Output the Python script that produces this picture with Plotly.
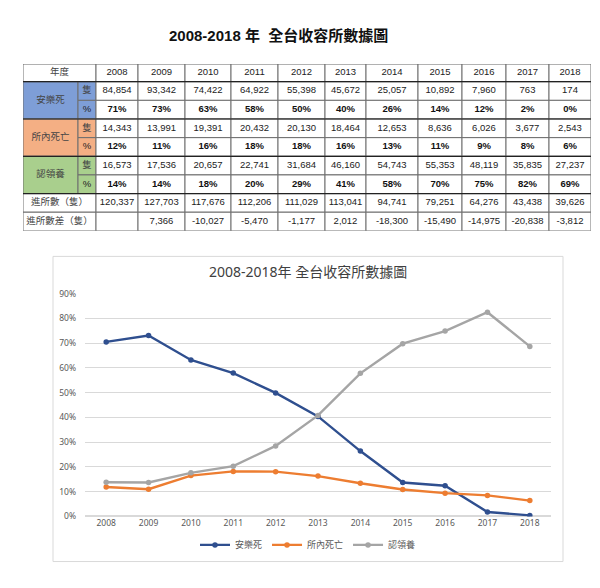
import plotly.graph_objects as go

# ---------------- data ----------------
years = [2008, 2009, 2010, 2011, 2012, 2013, 2014, 2015, 2016, 2017, 2018]
series_names = ["安樂死", "所內死亡", "認領養"]

euth_count = [84854, 93342, 74422, 64922, 55398, 45672, 25057, 10892, 7960, 763, 174]
euth_pct = [71, 73, 63, 58, 50, 40, 26, 14, 12, 2, 0]
death_count = [14343, 13991, 19391, 20432, 20130, 18464, 12653, 8636, 6026, 3677, 2543]
death_pct = [12, 11, 16, 18, 18, 16, 13, 11, 9, 8, 6]
adopt_count = [16573, 17536, 20657, 22741, 31684, 46160, 54743, 55353, 48119, 35835, 27237]
adopt_pct = [14, 14, 18, 20, 29, 41, 58, 70, 75, 82, 69]
intake = [120337, 127703, 117676, 112206, 111029, 113041, 94741, 79251, 64276, 43438, 39626]
intake_diff = [None, 7366, -10027, -5470, -1177, 2012, -18300, -15490, -14975, -20838, -3812]

# values plotted in the line chart (percent)
euth_line = [70.5, 73.1, 63.2, 57.9, 49.9, 40.4, 26.4, 13.7, 12.4, 1.8, 0.4]
death_line = [11.9, 11.0, 16.5, 18.2, 18.1, 16.3, 13.4, 10.9, 9.4, 8.5, 6.4]
adopt_line = [13.8, 13.7, 17.6, 20.3, 28.5, 40.8, 57.8, 69.8, 74.9, 82.5, 68.7]

y_ticks = [0, 10, 20, 30, 40, 50, 60, 70, 80, 90]

# ---------------- styles ----------------
W, H = 600, 588
line_colors = ["#2F4F8F", "#ED7D31", "#A5A5A5"]
group_fills = ["#7E9ED7", "#F4AF84", "#A9CF8D"]
NUM_FONT = "Liberation Sans, Arial, Noto Sans CJK TC"
CJK_FONT = "Noto Sans CJK TC, Noto Sans"
CHART_FONT = "Noto Sans, Noto Sans CJK TC"

col_widths = [55, 18, 42, 47, 46, 47, 47, 41, 52, 44, 44, 43, 42]
row_heights = [18] + [19] * 8
x_edges = [0]
for w in col_widths:
    x_edges.append(x_edges[-1] + w)
y_edges = [0]
for h in row_heights:
    y_edges.append(y_edges[-1] + h)

tbl_left, tbl_top = 15, 51
tbl_w, tbl_h = x_edges[-1], y_edges[-1]

fig = go.Figure()

# ---------------- line chart ----------------
cats = [str(y) for y in years]
for name, vals, col in zip(series_names, [euth_line, death_line, adopt_line], line_colors):
    fig.add_trace(go.Scatter(
        x=cats, y=vals, name=name, mode="lines+markers",
        line=dict(color=col, width=2.4),
        marker=dict(color=col, size=5.5, symbol="circle"),
        xaxis="x", yaxis="y",
    ))

# ---------------- table (drawn on a hidden axis) ----------------
shapes = []
texts = {"num": ([], [], []), "bold": ([], [], []), "cjk": ([], [], [])}


def cell(c0, c1, r0, r1, fill="white", text=None, kind="num"):
    shapes.append(dict(type="rect", xref="x2", yref="y2",
                       x0=x_edges[c0], x1=x_edges[c1], y0=y_edges[r0], y1=y_edges[r1],
                       fillcolor=fill, line=dict(color="#6E6E6E", width=1), layer="below"))
    if text is not None and text != "":
        xs, ys, ts = texts[kind]
        xs.append((x_edges[c0] + x_edges[c1]) / 2)
        ys.append((y_edges[r0] + y_edges[r1]) / 2)
        ts.append(text)


def fmt(v):
    return "" if v is None else f"{v:,}"


# header
cell(0, 2, 0, 1, text="年度", kind="cjk")
for i, y in enumerate(years):
    cell(2 + i, 3 + i, 0, 1, text=str(y))

groups = [(euth_count, euth_pct), (death_count, death_pct), (adopt_count, adopt_pct)]
for g, ((cnt, pct), name, fill) in enumerate(zip(groups, series_names, group_fills)):
    r = 1 + 2 * g
    cell(0, 1, r, r + 2, fill=fill, text=name, kind="cjk")
    cell(1, 2, r, r + 1, fill=fill, text="隻", kind="cjk")
    cell(1, 2, r + 1, r + 2, fill=fill, text="%", kind="num")
    for i in range(len(years)):
        cell(2 + i, 3 + i, r, r + 1, text=fmt(cnt[i]))
        cell(2 + i, 3 + i, r + 1, r + 2, text=f"{pct[i]}%", kind="bold")

cell(0, 2, 7, 8, text="進所數（隻）", kind="cjk")
cell(0, 2, 8, 9, text="進所數差（隻）", kind="cjk")
for i in range(len(years)):
    cell(2 + i, 3 + i, 7, 8, text=fmt(intake[i]))
    cell(2 + i, 3 + i, 8, 9, text=fmt(intake_diff[i]))

# darker group separators
for r in [1, 3, 5, 7]:
    shapes.append(dict(type="line", xref="x2", yref="y2", x0=0, x1=tbl_w,
                       y0=y_edges[r], y1=y_edges[r], line=dict(color="#222222", width=1.2)))

fonts = {
    "num": dict(family=NUM_FONT, size=9.5, color="#222222"),
    "bold": dict(family=NUM_FONT, size=9.5, color="#111111", weight="bold"),
    "cjk": dict(family=CJK_FONT, size=9.5, color="#444444"),
}
for kind, (xs, ys, ts) in texts.items():
    fig.add_trace(go.Scatter(x=xs, y=ys, text=ts, mode="text", textfont=fonts[kind],
                             textposition="middle center", showlegend=False,
                             hoverinfo="skip", xaxis="x2", yaxis="y2", cliponaxis=False))

# chart frame
shapes.append(dict(type="rect", xref="paper", yref="paper",
                   x0=45 / W, x1=555 / W, y0=1 - 558 / H, y1=1 - 247 / H,
                   line=dict(color="#D9D9D9", width=1), fillcolor="rgba(0,0,0,0)", layer="below"))

fig.update_layout(
    width=W, height=H,
    margin=dict(l=0, r=0, t=0, b=0),
    paper_bgcolor="white", plot_bgcolor="white",
    shapes=shapes,
    showlegend=True,
    legend=dict(orientation="h", x=0.5, xanchor="center", y=1 - 541 / H, yanchor="middle",
                font=dict(family=CHART_FONT, size=9, color="#595959"),
                itemwidth=30, bgcolor="rgba(0,0,0,0)"),
    xaxis=dict(domain=[77 / W, 543 / W], type="category", range=[-0.5, 10.5],
               showgrid=False, showline=False, zeroline=False, ticks="",
               tickfont=dict(family=CHART_FONT, size=8.5, color="#595959"),
               anchor="y", fixedrange=True),
    yaxis=dict(domain=[1 - 512 / H, 1 - 285 / H], range=[0, 90], tickvals=y_ticks,
               ticktext=[f"{v}%" for v in y_ticks],
               showgrid=True, gridcolor="#D9D9D9", gridwidth=1, zeroline=True,
               zerolinecolor="#D9D9D9", showline=False, ticks="",
               tickfont=dict(family=CHART_FONT, size=8.5, color="#595959"),
               ticklabelstandoff=8, anchor="x", fixedrange=True),
    xaxis2=dict(domain=[tbl_left / W, (tbl_left + tbl_w) / W], range=[0, tbl_w],
                visible=False, anchor="y2", fixedrange=True),
    yaxis2=dict(domain=[1 - (tbl_top + tbl_h) / H, 1 - tbl_top / H], range=[tbl_h, 0],
                visible=False, anchor="x2", fixedrange=True),
    annotations=[
        dict(text="<b>2008-2018 年\u00a0\u00a0全台收容所數據圖</b>", xref="paper", yref="paper",
             x=159 / W, y=1 - 22 / H, xanchor="left", yanchor="middle", showarrow=False,
             font=dict(family=NUM_FONT, size=15, color="#111111")),
        dict(text="2008-2018年 全台收容所數據圖", xref="paper", yref="paper",
             x=300 / W, y=1 - 262 / H, xanchor="center", yanchor="middle", showarrow=False,
             font=dict(family=CHART_FONT, size=14, color="#404040")),
    ],
)

fig.write_html("out.html")
